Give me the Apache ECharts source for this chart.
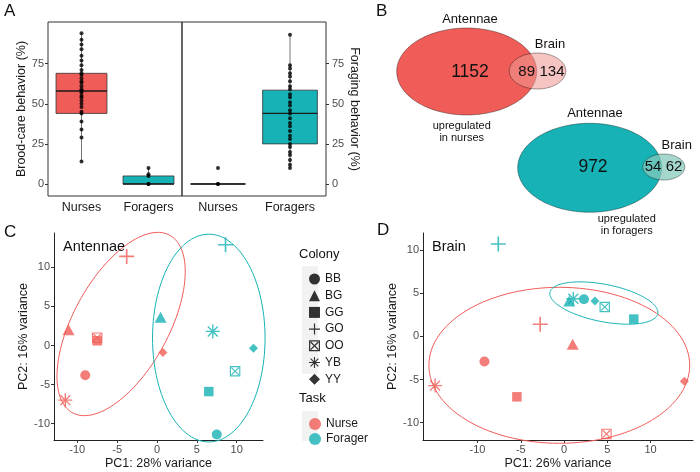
<!DOCTYPE html>
<html lang="en">
<head>
<meta charset="UTF-8">
<title>Figure</title>
<script src="https://cdn.jsdelivr.net/npm/echarts@6/dist/echarts.min.js"></script>
<style>body{margin:0;background:#fff} #main{width:700px;height:472px}</style>
</head>
<body>
<div id="main"></div>
<script>
var RED = '#F05D58', TEAL = '#16B2B5';
var FONT = 'Liberation Sans, Arial, sans-serif';

// ---- panel A: behaviour boxplots
var taskCats = ['Nurses', 'Foragers'];
// [category, min, q1, median, q3, max]
var broodBoxes = [[0, 14, 44, 58, 69, 94], [1, 0, 0, 0, 5, 10]];
var forageBoxes = [[0, 0, 0, 0, 0, 0], [1, 10, 25, 44, 58.5, 93]];
var broodNurses = [94, 90, 87, 84, 80, 77, 74, 71, 69, 68, 66, 64, 63, 61, 59, 58, 57, 55, 54, 52, 50, 48, 45, 44, 39, 34, 29, 14];
var broodForagers = [10, 6, 5, 0, 0];
var forageNurses = [10, 0, 0];
var forageForagers = [93, 74, 72, 69, 67, 64, 61, 59, 56, 54, 51, 49, 46, 44, 41, 38, 36, 33, 30, 28, 25, 23, 20, 18, 15, 12, 10];
var aTicks = [0, 25, 50, 75];

// ---- panel B: DEG counts [antennae only, shared, brain only]
var nurseCounts = [1152, 89, 134];
var foragerCounts = [972, 54, 62];

// ---- panels C, D: PCA
var colonies = ['BB', 'BG', 'GG', 'GO', 'OO', 'YB', 'YY'];
var antNurseX = [-9.0, -11.1, -7.5, -3.8, -7.5, -11.5, 0.75];
var antNurseY = [-3.8, 2.0, 0.6, 11.4, 1.0, -7.0, -0.9];
var antForagerX = [7.5, 0.45, 6.5, 8.6, 9.8, 7.0, 12.1];
var antForagerY = [-11.4, 3.6, -5.9, 12.9, -3.3, 1.8, -0.35];
var brainNurseX = [-9.2, 1.0, -5.45, -2.76, 4.9, -14.9, 13.9];
var brainNurseY = [-2.9, -0.9, -7.0, 1.4, -11.3, -5.7, -5.2];
var brainForagerX = [2.3, 0.6, 8.06, -7.6, 4.7, 1.07, 3.57];
var brainForagerY = [4.3, 4.1, 2.0, 10.7, 3.4, 4.35, 4.1];
var pcTicks = [-10, -5, 0, 5, 10];
// 95% ellipses: centre, semi-axes, angle (deg)
var antNurseEllipse = [-4.5, 2.75, 12.9, 6.0, 62];
var antForagerEllipse = [6.5, 0.95, 13.3, 7.06, 90];
var brainNurseEllipse = [-0.55, -3.35, 15.07, 9.03, 0];
var brainForagerEllipse = [4.6, 3.86, 6.35, 2.16, -11.2];

var PLUS = 'path://M8.9,0h2.2v8.9h8.9v2.2h-8.9v8.9h-2.2v-8.9h-8.9v-2.2h8.9z';
var BOXX = 'path://M0,0H20V20H0Z M2.2,2.2V17.8H17.8V2.2Z M2.2,3.8L3.8,2.2L17.8,16.2L16.2,17.8Z M16.2,2.2L17.8,3.8L3.8,17.8L2.2,16.2Z';
var STAR = 'path://M0,9H20V11H0Z M9,0H11V20H9Z M2.2,3.6L3.6,2.2L17.8,16.4L16.4,17.8Z M16.4,2.2L17.8,3.6L3.6,17.8L2.2,16.4Z';
var shapes = {BB: ['circle', 10], BG: ['triangle', [12, 11]], GG: ['rect', 9.5], GO: [PLUS, 15], OO: [BOXX, 10.5], YB: [STAR, 14], YY: ['diamond', 9]};

var myChart = echarts.init(document.getElementById('main'));

var tickLbl = {color: '#4D4D4D', fontSize: 11, fontFamily: FONT};
var axisName = {color: '#1A1A1A', fontSize: 12.5, fontFamily: FONT};

function boxRender(params, api) {
    var c = api.value(0);
    var lo = api.coord([c, api.value(1)]), q1 = api.coord([c, api.value(2)]);
    var md = api.coord([c, api.value(3)]), q3 = api.coord([c, api.value(4)]);
    var hi = api.coord([c, api.value(5)]);
    var w = api.size([1, 0])[0] * 0.76;
    var x0 = lo[0] - w / 2;
    return {type: 'group', children: [
        {type: 'line', shape: {x1: lo[0], y1: lo[1], x2: hi[0], y2: hi[1]}, style: {stroke: '#777', lineWidth: 1}},
        {type: 'rect', shape: {x: x0, y: q3[1], width: w, height: q1[1] - q3[1]},
            style: {fill: c === 0 ? RED : TEAL, stroke: '#333', lineWidth: 0.8}},
        {type: 'line', shape: {x1: x0, y1: md[1], x2: x0 + w, y2: md[1]}, style: {stroke: '#1A1A1A', lineWidth: 1.4}}
    ]};
}

function dots(vals, cat, idx) {
    return {type: 'scatter', xAxisIndex: idx, yAxisIndex: idx, symbolSize: 4, z: 5,
        itemStyle: {color: '#000'}, data: vals.map(function (v) { return [cat, v]; })};
}

function ellipse(e, color, idx) {
    return {type: 'custom', xAxisIndex: idx, yAxisIndex: idx, clip: false, silent: true, z: 1,
        data: [[e[0], e[1]]],
        renderItem: function (params, api) {
            var th = e[4] * Math.PI / 180, pts = [];
            for (var k = 0; k <= 120; k++) {
                var t = k / 120 * 2 * Math.PI;
                var dx = e[2] * Math.cos(t), dy = e[3] * Math.sin(t);
                pts.push(api.coord([e[0] + dx * Math.cos(th) - dy * Math.sin(th),
                                    e[1] + dx * Math.sin(th) + dy * Math.cos(th)]));
            }
            return {type: 'polyline', shape: {points: pts}, style: {stroke: color, fill: null, lineWidth: 1}};
        }};
}

function pcaSeries(nx, ny, fx, fy, idx) {
    return colonies.map(function (col, i) {
        return {type: 'scatter', name: col, xAxisIndex: idx, yAxisIndex: idx, z: 3,
            symbol: shapes[col][0], symbolSize: shapes[col][1],
            data: [{value: [nx[i], ny[i]], itemStyle: {color: RED}},
                   {value: [fx[i], fy[i]], itemStyle: {color: TEAL}}]};
    });
}

// venn layout, in panel-B pixels
var vennLayout = [
    {big: [106.7, 71.5, 70, 43.5], small: [177.5, 71, 28.3, 18], fill: RED,
     smallFill: 'rgba(239,150,146,0.56)', num: [[110, 72, 17.5], [166.7, 72, 15], [192, 72, 15]],
     ant: [110, 19], brain: [190, 44], note: [101.7, 126, 'upregulated', 'in nurses']},
    {big: [229.7, 167.8, 72, 44.5], small: [303.8, 167, 21, 13], fill: TEAL,
     smallFill: 'rgba(134,201,188,0.74)', num: [[233, 167, 17.5], [293, 167, 15], [314, 167, 15]],
     ant: [235, 113], brain: [316.7, 145.7], note: [266.7, 219, 'upregulated', 'in foragers']}
];
var vennCounts = [nurseCounts, foragerCounts];

function vennRender(params, api) {
    var L = vennLayout[params.dataIndex], counts = vennCounts[params.dataIndex];
    function ell(e, fill) {
        var pts = [];
        for (var k = 0; k < 120; k++) {
            var t = k / 120 * 2 * Math.PI;
            pts.push(api.coord([e[0] + e[2] * Math.cos(t), e[1] + e[3] * Math.sin(t)]));
        }
        return {type: 'polygon', shape: {points: pts}, style: {fill: fill, stroke: 'rgba(0,0,0,0.45)', lineWidth: 0.8}};
    }
    function txt(x, y, s, size) {
        var p = api.coord([x, y]);
        return {type: 'text', x: p[0], y: p[1], style: {text: s, fontSize: size, fontFamily: FONT,
            fill: '#111', align: 'center', verticalAlign: 'middle'}};
    }
    var kids = [ell(L.big, L.fill), ell(L.small, L.smallFill)];
    L.num.forEach(function (n, i) { kids.push(txt(n[0], n[1], String(counts[i]), n[2])); });
    kids.push(txt(L.ant[0], L.ant[1], 'Antennae', 13));
    kids.push(txt(L.brain[0], L.brain[1], 'Brain', 13));
    kids.push(txt(L.note[0], L.note[1], L.note[2], 11));
    kids.push(txt(L.note[0], L.note[1] + 12, L.note[3], 11));
    return {type: 'group', children: kids};
}

function pcAxis(min, max, idx, name, gap) {
    return {type: 'value', gridIndex: idx, min: min, max: max, name: name, nameLocation: 'middle', nameGap: gap,
        nameTextStyle: axisName, splitLine: {show: false},
        axisLine: {onZero: false, lineStyle: {color: '#222', width: 1}},
        axisTick: {length: 3, lineStyle: {color: '#333'}, customValues: pcTicks},
        axisLabel: Object.assign({margin: 4, customValues: pcTicks}, tickLbl)};
}

var catAxis = function (idx) {
    return {type: 'category', gridIndex: idx, data: taskCats,
        axisLine: {show: false, onZero: false}, axisTick: {alignWithLabel: true, length: 3, lineStyle: {color: '#333'}},
        axisLabel: {color: '#1A1A1A', fontSize: 12.5, fontFamily: FONT, margin: 5}};
};

var series = [
    {type: 'custom', xAxisIndex: 0, yAxisIndex: 0, renderItem: boxRender, data: broodBoxes, z: 2},
    {type: 'custom', xAxisIndex: 1, yAxisIndex: 1, renderItem: boxRender, data: forageBoxes, z: 2},
    dots(broodNurses, 0, 0), dots(broodForagers, 1, 0),
    dots(forageNurses, 0, 1), dots(forageForagers, 1, 1),
    {type: 'custom', xAxisIndex: 2, yAxisIndex: 2, renderItem: vennRender, data: [[0], [1]], clip: false, silent: true},
    ellipse(antNurseEllipse, RED, 3), ellipse(antForagerEllipse, TEAL, 3),
    ellipse(brainNurseEllipse, RED, 4), ellipse(brainForagerEllipse, TEAL, 4),
    {type: 'scatter', name: 'Nurse', xAxisIndex: 3, yAxisIndex: 3, itemStyle: {color: RED}, data: []},
    {type: 'scatter', name: 'Forager', xAxisIndex: 3, yAxisIndex: 3, itemStyle: {color: TEAL}, data: []}
].concat(pcaSeries(antNurseX, antNurseY, antForagerX, antForagerY, 3))
 .concat(pcaSeries(brainNurseX, brainNurseY, brainForagerX, brainForagerY, 4));

function ttl(text, left, top, size) {
    return {text: text, left: left, top: top, padding: 0,
        textStyle: {fontSize: size, fontWeight: 'normal', color: '#111', fontFamily: FONT}};
}

var legendIcons = {BB: 'circle', BG: 'triangle', GG: 'rect', GO: PLUS, OO: BOXX, YB: STAR, YY: 'diamond'};

myChart.setOption({
    backgroundColor: '#fff',
    animation: false,
    title: [
        ttl('A', 4, 3, 17), ttl('B', 376, 3, 17), ttl('C', 4, 224, 17), ttl('D', 377, 222, 17),
        ttl('Antennae', 63, 239, 14.5), ttl('Brain', 432, 239, 14.5),
        ttl('Colony', 299, 248, 13), ttl('Task', 299, 392, 13)
    ],
    graphic: [
        {type: 'rect', z: 0, shape: {x: 302, y: 266, width: 16, height: 108}, style: {fill: '#F2F2F2'}},
        {type: 'rect', z: 0, shape: {x: 302, y: 411, width: 16, height: 30}, style: {fill: '#F2F2F2'}}
    ],
    legend: [
        {orient: 'vertical', left: 304, top: 268, itemWidth: 11, itemHeight: 11, itemGap: 4.7, selectedMode: false,
         textStyle: {fontSize: 12, color: '#1A1A1A', fontFamily: FONT},
         data: colonies.map(function (c) { return {name: c, icon: legendIcons[c], itemStyle: {color: '#000'}}; })},
        {orient: 'vertical', left: 304, top: 413, itemWidth: 12, itemHeight: 12, itemGap: 3, selectedMode: false,
         textStyle: {fontSize: 12, color: '#1A1A1A', fontFamily: FONT},
         data: [{name: 'Nurse', icon: 'circle'}, {name: 'Forager', icon: 'circle'}]}
    ],
    grid: [
        {left: 48, top: 22, width: 134, height: 174, show: true, borderColor: '#333', borderWidth: 1},
        {left: 182, top: 22, width: 144, height: 174, show: true, borderColor: '#333', borderWidth: 1},
        {left: 360, top: 0, width: 340, height: 230},
        {left: 54, top: 233, width: 209, height: 207},
        {left: 423, top: 233, width: 270, height: 207}
    ],
    xAxis: [
        catAxis(0), catAxis(1),
        {type: 'value', gridIndex: 2, min: 0, max: 340, show: false},
        pcAxis(-12.92, 13.3, 3, 'PC1: 28% variance', 17),
        pcAxis(-16.3, 14.9, 4, 'PC1: 26% variance', 17)
    ],
    yAxis: [
        {type: 'value', gridIndex: 0, min: -7.5, max: 101, name: 'Brood-care behavior (%)', nameLocation: 'middle',
         nameGap: 17, nameTextStyle: axisName, splitLine: {show: false}, axisLine: {show: false},
         axisTick: {show: true, length: 3, lineStyle: {color: '#333'}, customValues: aTicks},
         axisLabel: Object.assign({margin: 4, customValues: aTicks}, tickLbl)},
        {type: 'value', gridIndex: 1, position: 'right', min: -7.5, max: 101, name: 'Foraging behavior (%)',
         nameLocation: 'middle', nameRotate: -90, nameGap: 19, nameTextStyle: axisName, splitLine: {show: false},
         axisLine: {show: false},
         axisTick: {show: true, length: 3, lineStyle: {color: '#333'}, customValues: aTicks},
         axisLabel: Object.assign({margin: 6, customValues: aTicks}, tickLbl)},
        {type: 'value', gridIndex: 2, min: 0, max: 230, inverse: true, show: false},
        pcAxis(-12.1, 14.4, 3, 'PC2: 16% variance', 22),
        pcAxis(-12.0, 11.97, 4, 'PC2: 16% variance', 22)
    ],
    series: series
});
</script>
</body>
</html>
